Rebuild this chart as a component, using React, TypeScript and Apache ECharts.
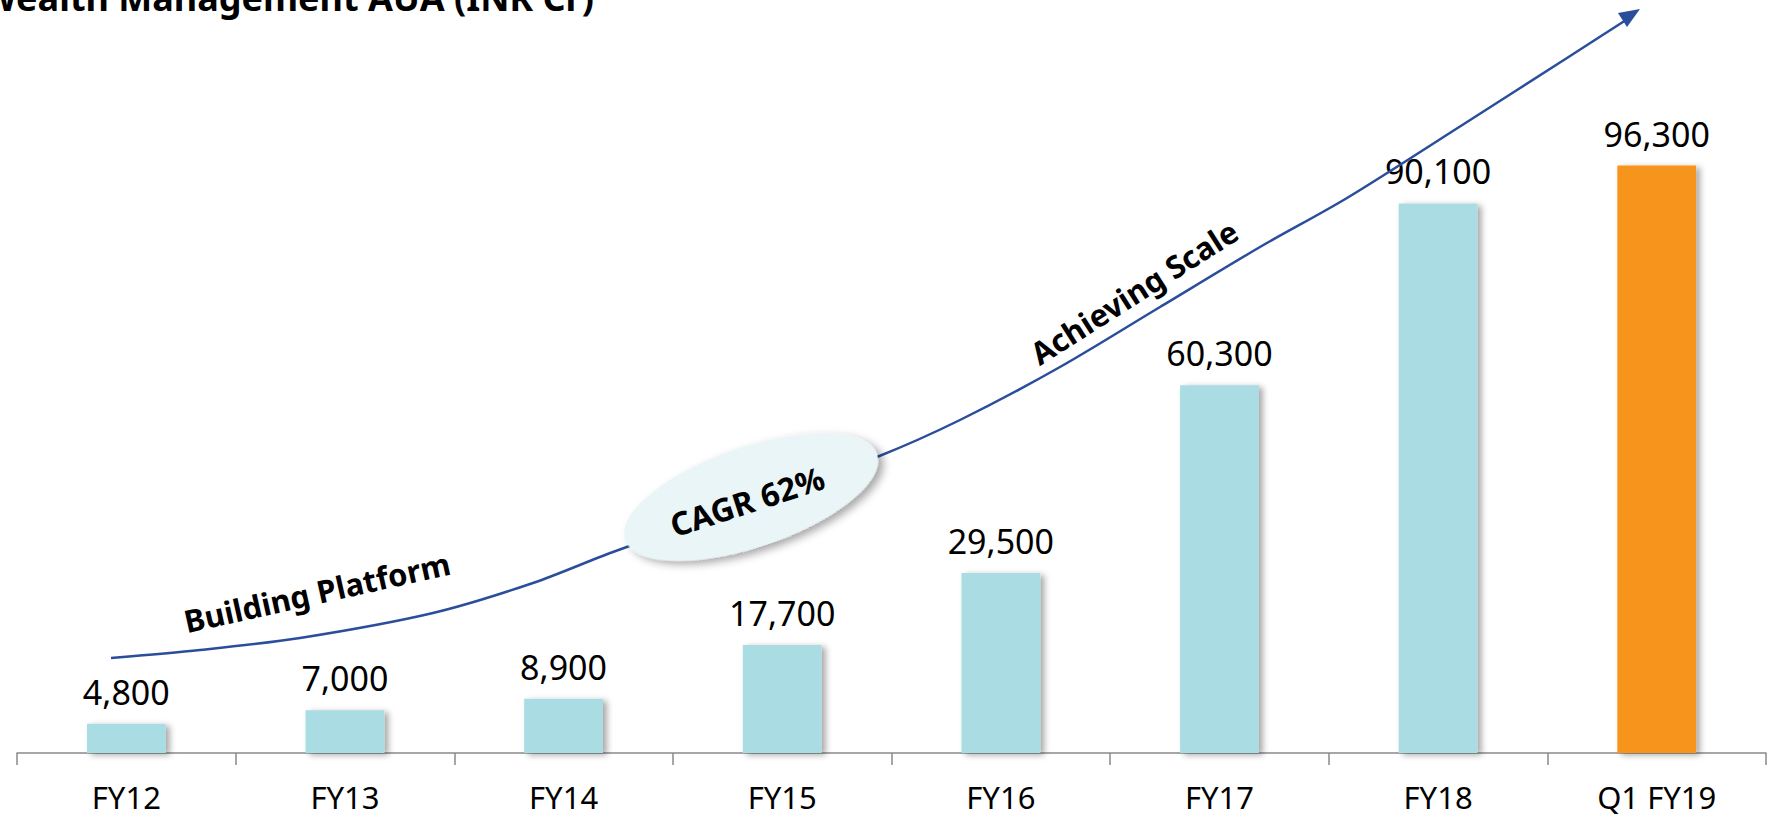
import React, { useEffect, useRef } from "react";
import * as echarts from "echarts";

const categories = ["FY12", "FY13", "FY14", "FY15", "FY16", "FY17", "FY18", "Q1 FY19"];
const values = [4800, 7000, 8900, 17700, 29500, 60300, 90100, 96300];
const highlightIndex = 7;
const titleText = "Wealth Management AUA (INR Cr)";
const annotations = ["Building Platform", "CAGR 62%", "Achieving Scale"];

const BAR = "#A9DCE3";
const ORANGE = "#F7941D";
const CURVE = "#2A4D9C";
const FONT = "'Noto Sans', sans-serif";

const curvePts: number[][] = [
  [111, 658], [200, 650], [300, 638], [433, 613], [533, 583], [613, 552],
  [752, 503], [877, 457], [960, 420], [1060, 367], [1160, 307], [1260, 247],
  [1347, 198], [1467, 122], [1567, 58], [1626, 20],
];

export default function App() {
  const ref = useRef<HTMLDivElement>(null);
  useEffect(() => {
    if (!ref.current) return;
    const chart = echarts.init(ref.current, undefined, { renderer: "svg" });
    const deg = (d: number) => (d * Math.PI) / 180;
    chart.setOption({
      animation: false,
      backgroundColor: "#ffffff",
      grid: { left: 17, right: 3, top: 143, bottom: 65, containLabel: false },
      xAxis: {
        type: "category",
        data: categories,
        boundaryGap: true,
        axisLine: { show: true, lineStyle: { color: "#8a8a8a", width: 1.5 } },
        axisTick: { show: true, length: 12, alignWithLabel: false, lineStyle: { color: "#8a8a8a", width: 1.5 } },
        axisLabel: { color: "#000", fontSize: 31, lineHeight: 28, fontFamily: FONT, margin: 30 },
      },
      yAxis: { type: "value", min: 0, max: 100000, show: false, splitLine: { show: false } },
      series: [
        {
          type: "bar",
          barWidth: "36%",
          data: values.map((v, i) =>
            i === highlightIndex ? { value: v, itemStyle: { color: ORANGE } } : v
          ),
          itemStyle: {
            color: BAR,
            shadowBlur: 6,
            shadowColor: "rgba(0,0,0,0.35)",
            shadowOffsetX: 4,
            shadowOffsetY: 2,
          },
          label: {
            show: true,
            position: "top",
            distance: 15,
            color: "#000",
            fontSize: 34,
            fontFamily: FONT,
            formatter: (p: any) => Number(p.value).toLocaleString("en-US"),
          },
        },
      ],
      graphic: [
        {
          type: "text",
          x: -18,
          y: -3,
          z: 10,
          style: {
            text: titleText,
            font: `bold 36px ${FONT}`,
            fill: "#000",
            align: "left",
            verticalAlign: "middle",
          },
        },
        {
          type: "polyline",
          z: 5,
          shape: { points: curvePts, smooth: 0.3 },
          style: { stroke: CURVE, lineWidth: 2.5, fill: null },
        },
        {
          type: "polygon",
          z: 5,
          shape: { points: [[1640, 9], [1618, 13], [1627, 27]] },
          style: { fill: CURVE },
        },
        {
          type: "ellipse",
          z: 6,
          x: 751,
          y: 497,
          rotation: deg(18.7),
          shape: { cx: 0, cy: 0, rx: 133, ry: 50 },
          style: {
            fill: "#EAF5F7",
            shadowBlur: 8,
            shadowColor: "rgba(0,0,0,0.35)",
            shadowOffsetX: 4,
            shadowOffsetY: 5,
          },
        },
        {
          type: "text",
          z: 7,
          x: 747,
          y: 501,
          rotation: deg(18),
          style: {
            text: annotations[1],
            font: `bold 32px ${FONT}`,
            fill: "#000",
            align: "center",
            verticalAlign: "middle",
          },
        },
        {
          type: "text",
          z: 7,
          x: 317,
          y: 592,
          rotation: deg(12.6),
          style: {
            text: annotations[0],
            font: `bold 31px ${FONT}`,
            fill: "#000",
            align: "center",
            verticalAlign: "middle",
          },
        },
        {
          type: "text",
          z: 7,
          x: 1134,
          y: 292,
          rotation: deg(32.5),
          style: {
            text: annotations[2],
            font: `bold 31px ${FONT}`,
            fill: "#000",
            align: "center",
            verticalAlign: "middle",
          },
        },
      ],
    });
    return () => chart.dispose();
  }, []);
  return (
    <div
      ref={ref}
      style={{ position: "absolute", left: 0, top: 0, width: 1769, height: 818 }}
    />
  );
}
